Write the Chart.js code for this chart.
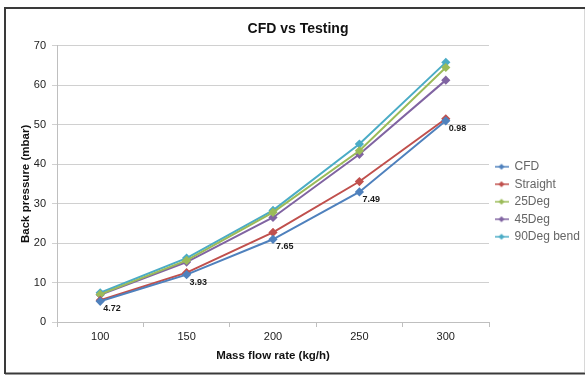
<!DOCTYPE html>
<html>
<head>
<meta charset="utf-8">
<script src="https://cdn.jsdelivr.net/npm/chart.js@4/dist/chart.umd.min.js"></script>
<style>
html,body{margin:0;padding:0;background:#fff;}
#wrap{position:absolute;left:0;top:0;width:585px;height:375px;}
</style>
</head>
<body>
<div id="wrap"><canvas id="c" width="585" height="375"></canvas></div>
<script>
const categories = ["100", "150", "200", "250", "300"];
const cfd      = [5.24, 12.0, 20.96, 32.95, 51.0];
const straight = [5.5, 12.5, 22.7, 35.6, 51.5];
const deg25    = [7.0, 15.6, 27.8, 43.4, 64.5];
const deg45    = [6.9, 15.2, 26.5, 42.5, 61.3];
const deg90    = [7.4, 16.2, 28.3, 45.1, 65.8];
const errorLabels = ["4.72", "3.93", "7.65", "7.49", "0.98"];
const seriesNames = ["CFD", "Straight", "25Deg", "45Deg", "90Deg bend"];
const seriesColors = ["#4F81BD", "#C0504D", "#9BBB59", "#8064A2", "#4BACC6"];
const yTicks = [0, 10, 20, 30, 40, 50, 60, 70];

const FONT = '"Liberation Sans", Arial, sans-serif';

function legendIcon(color) {
  const cv = document.createElement('canvas');
  cv.width = 14; cv.height = 8;
  const g = cv.getContext('2d');
  g.strokeStyle = color; g.lineWidth = 1.5;
  g.beginPath(); g.moveTo(0, 4); g.lineTo(14, 4); g.stroke();
  g.fillStyle = color;
  g.beginPath(); g.moveTo(7, 1); g.lineTo(10, 4); g.lineTo(7, 7); g.lineTo(4, 4); g.closePath(); g.fill();
  return cv;
}

const allData = [cfd, straight, deg25, deg45, deg90];
const datasets = allData.map((d, i) => ({
  label: seriesNames[i],
  data: d,
  borderColor: seriesColors[i],
  backgroundColor: seriesColors[i],
  borderWidth: 2,
  pointStyle: 'rectRot',
  pointRadius: 3.2,
  pointHoverRadius: 3.2,
  tension: 0,
  fill: false
}));
const icons = seriesColors.map(legendIcon);

const framePlugin = {
  id: 'frame',
  beforeDraw(chart) {
    const ctx = chart.ctx;
    ctx.save();
    ctx.fillStyle = '#fff';
    ctx.fillRect(0, 0, chart.width, chart.height);
    ctx.strokeStyle = '#3a3a3a';
    ctx.lineWidth = 2;
    ctx.beginPath();
    ctx.moveTo(5, 374); ctx.lineTo(5, 8); ctx.lineTo(586, 8);
    ctx.moveTo(5, 373.5); ctx.lineTo(586, 373.5);
    ctx.stroke();
    ctx.strokeStyle = '#d8d8d8'; ctx.lineWidth = 1;
    ctx.beginPath(); ctx.moveTo(584.5, 9); ctx.lineTo(584.5, 372); ctx.stroke();
    ctx.restore();
  }
};

const labelPlugin = {
  id: 'errLabels',
  afterDatasetsDraw(chart) {
    const ctx = chart.ctx;
    const meta = chart.getDatasetMeta(0);
    ctx.save();
    ctx.font = 'bold 9px ' + FONT;
    ctx.fillStyle = '#1a1a1a';
    ctx.textAlign = 'left';
    ctx.textBaseline = 'top';
    meta.data.forEach((pt, i) => {
      ctx.fillText(errorLabels[i], pt.x + 3, pt.y + 3);
    });
    ctx.restore();
  }
};

new Chart(document.getElementById('c'), {
  type: 'line',
  data: { labels: categories, datasets: datasets },
  options: {
    responsive: false,
    animation: false,
    devicePixelRatio: 1,
    layout: { padding: { left: 11, right: 0, top: 6, bottom: 12 } },
    plugins: {
      tooltip: { enabled: false },
      title: {
        display: true,
        text: 'CFD vs Testing',
        color: '#111',
        font: { family: FONT, size: 14, weight: 'bold' },
        padding: { top: 15, bottom: 8 }
      },
      legend: {
        position: 'right',
        align: 'center',
        maxWidth: 96,
        title: { display: true, text: ' ', font: { family: FONT, size: 12 }, padding: { top: 10, bottom: 10 } },
        labels: {
          usePointStyle: true,
          pointStyleWidth: 14,
          boxWidth: 14,
          boxHeight: 8,
          padding: 5.5,
          color: '#222',
          font: { family: FONT, size: 12 },
          generateLabels(chart) {
            return chart.data.datasets.map((ds, i) => ({
              text: ds.label,
              fillStyle: ds.borderColor,
              strokeStyle: ds.borderColor,
              pointStyle: icons[i],
              hidden: false,
              datasetIndex: i,
              lineWidth: 0
            }));
          }
        }
      }
    },
    scales: {
      x: {
        type: 'category',
        offset: true,
        grid: { display: true, drawOnChartArea: false, offset: true, tickLength: 5, color: '#bfbfbf' },
        border: { color: '#bfbfbf' },
        ticks: { color: '#222', font: { family: FONT, size: 11 }, padding: 3, maxRotation: 0 },
        title: {
          display: true,
          text: 'Mass flow rate (kg/h)',
          color: '#111',
          font: { family: FONT, size: 11.5, weight: 'bold' },
          padding: { top: 3, bottom: 0 }
        }
      },
      y: {
        min: 0, max: 70,
        afterBuildTicks(scale) { scale.ticks = yTicks.map(v => ({ value: v })); },
        afterFit(scale) { scale.width = 46; },
        grid: { color: '#d0d0d0', tickLength: 5 },
        border: { color: '#bfbfbf' },
        ticks: { color: '#222', font: { family: FONT, size: 11 }, padding: 6 },
        title: {
          display: true,
          text: 'Back pressure (mbar)',
          color: '#111',
          font: { family: FONT, size: 11.5, weight: 'bold' },
          padding: { top: 8, bottom: 0 }
        }
      }
    }
  },
  plugins: [framePlugin, labelPlugin]
});
</script>
</body>
</html>
